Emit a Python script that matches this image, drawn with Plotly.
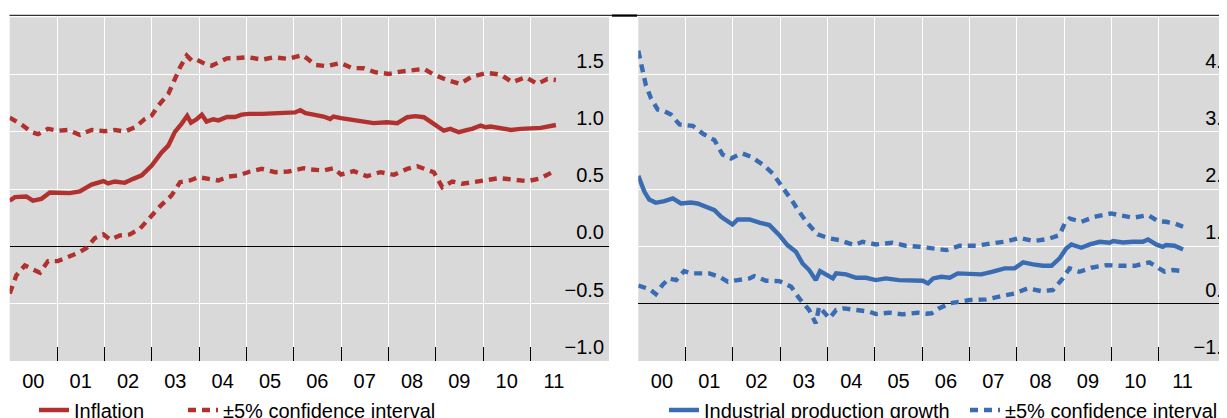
import plotly.graph_objects as go

# ---------------- data ----------------
year_labels = ["00", "01", "02", "03", "04", "05", "06", "07", "08", "09", "10", "11"]
year_mid = [2000.5 + i for i in range(12)]
year_bounds = [2001 + i for i in range(11)]

infl_x = [2000.00, 2000.11, 2000.35, 2000.49, 2000.67, 2000.85, 2000.99, 2001.09, 2001.27, 2001.48, 2001.73, 2001.98,
          2002.08, 2002.22, 2002.43, 2002.61, 2002.79, 2003.00, 2003.21, 2003.35, 2003.49, 2003.63, 2003.75, 2003.83,
          2003.95, 2004.06, 2004.16, 2004.30, 2004.41, 2004.59, 2004.76, 2004.90, 2005.05, 2005.33, 2005.61, 2006.03,
          2006.14, 2006.25, 2006.42, 2006.63, 2006.77, 2006.84, 2007.00, 2007.27, 2007.48, 2007.69, 2007.97, 2008.19,
          2008.40, 2008.57, 2008.75, 2008.96, 2009.17, 2009.31, 2009.49, 2009.67, 2009.77, 2009.95, 2010.06, 2010.16,
          2010.37, 2010.59, 2010.80, 2011.01, 2011.22, 2011.54]
infl_y = [0.40, 0.43, 0.436, 0.40, 0.415, 0.47, 0.468, 0.47, 0.465, 0.48, 0.54, 0.57,
          0.55, 0.567, 0.555, 0.59, 0.62, 0.706, 0.82, 0.88, 1.00, 1.07, 1.14, 1.08,
          1.11, 1.15, 1.09, 1.11, 1.10, 1.13, 1.13, 1.15, 1.157, 1.157, 1.16, 1.17,
          1.19, 1.163, 1.15, 1.134, 1.113, 1.134, 1.12, 1.108, 1.09, 1.076, 1.084, 1.076,
          1.128, 1.137, 1.128, 1.07, 1.01, 1.026, 0.997, 1.017, 1.026, 1.055, 1.04, 1.047,
          1.032, 1.017, 1.026, 1.032, 1.035, 1.06]

infl_up_x = [2000.00, 2000.07, 2000.28, 2000.46, 2000.60, 2000.81, 2001.02, 2001.23, 2001.48, 2001.73, 2002.01,
             2002.22, 2002.43, 2002.65, 2002.86, 2003.00, 2003.14, 2003.35, 2003.46, 2003.60, 2003.74, 2003.85,
             2003.95, 2004.13, 2004.27, 2004.41, 2004.59, 2004.83, 2005.05, 2005.33, 2005.58, 2005.89, 2006.18,
             2006.28, 2006.46, 2006.70, 2006.99, 2007.23, 2007.48, 2007.73, 2008.01, 2008.26, 2008.50, 2008.75,
             2008.96, 2009.24, 2009.51, 2009.77, 2010.09, 2010.37, 2010.62, 2010.90, 2011.15, 2011.36, 2011.54]
infl_up_y = [1.125, 1.107, 1.055, 0.997, 0.98, 1.026, 1.01, 1.017, 0.974, 1.017, 1.006,
             1.017, 1.003, 1.04, 1.113, 1.142, 1.23, 1.33, 1.433, 1.564, 1.666, 1.622,
             1.63, 1.593, 1.578, 1.608, 1.642, 1.645, 1.651, 1.63, 1.651, 1.637, 1.67,
             1.642, 1.584, 1.573, 1.602, 1.558, 1.555, 1.52, 1.506, 1.526, 1.535, 1.55,
             1.50, 1.453, 1.419, 1.483, 1.515, 1.50, 1.433, 1.477, 1.419, 1.462, 1.453]

infl_lo_x = [2000.00, 2000.14, 2000.32, 2000.46, 2000.64, 2000.81, 2001.02, 2001.23, 2001.45, 2001.62, 2001.80,
             2001.98, 2002.12, 2002.33, 2002.54, 2002.75, 2002.96, 2003.18, 2003.42, 2003.60, 2003.81, 2003.99,
             2004.20, 2004.41, 2004.62, 2004.83, 2005.08, 2005.33, 2005.61, 2005.89, 2006.21, 2006.35, 2006.63,
             2006.84, 2007.00, 2007.27, 2007.55, 2007.83, 2008.12, 2008.40, 2008.61, 2008.82, 2008.96, 2009.14,
             2009.35, 2009.56, 2009.81, 2010.09, 2010.34, 2010.62, 2010.94, 2011.18, 2011.40, 2011.54]
infl_lo_y = [-0.41, -0.253, -0.166, -0.195, -0.23, -0.128, -0.128, -0.093, -0.055, -0.015, 0.073,
             0.105, 0.061, 0.096, 0.105, 0.154, 0.256, 0.352, 0.445, 0.561, 0.576, 0.605,
             0.59, 0.576, 0.61, 0.619, 0.654, 0.677, 0.648, 0.654, 0.683, 0.672, 0.663,
             0.683, 0.628, 0.657, 0.613, 0.648, 0.625, 0.677, 0.70, 0.672, 0.648, 0.517,
             0.567, 0.547, 0.561, 0.581, 0.596, 0.584, 0.57, 0.59, 0.634, 0.663]

ip_x = [2000.00, 2000.13, 2000.23, 2000.37, 2000.55, 2000.73, 2000.90, 2001.11, 2001.25, 2001.43, 2001.61, 2001.75,
        2001.99, 2002.10, 2002.35, 2002.56, 2002.77, 2002.98, 2003.15, 2003.33, 2003.47, 2003.61, 2003.75, 2003.84,
        2003.96, 2004.11, 2004.18, 2004.39, 2004.60, 2004.81, 2005.02, 2005.23, 2005.51, 2005.80, 2006.01, 2006.12,
        2006.23, 2006.40, 2006.58, 2006.75, 2007.00, 2007.25, 2007.49, 2007.74, 2007.95, 2008.13, 2008.34, 2008.55,
        2008.73, 2008.90, 2009.04, 2009.15, 2009.36, 2009.54, 2009.75, 2009.96, 2010.03, 2010.24, 2010.45, 2010.66,
        2010.77, 2010.94, 2011.08, 2011.15, 2011.33, 2011.51]
ip_y = [2.68, 2.344, 2.184, 2.114, 2.149, 2.205, 2.10, 2.121, 2.10, 2.03, 1.96, 1.82,
        1.66, 1.765, 1.765, 1.70, 1.647, 1.437, 1.228, 1.088, 0.844, 0.705, 0.495, 0.684,
        0.614, 0.53, 0.635, 0.614, 0.544, 0.544, 0.495, 0.53, 0.495, 0.495, 0.481, 0.426,
        0.53, 0.565, 0.544, 0.635, 0.635, 0.614, 0.67, 0.74, 0.74, 0.865, 0.823, 0.795,
        0.795, 0.949, 1.158, 1.242, 1.172, 1.242, 1.298, 1.277, 1.312, 1.284, 1.298, 1.298,
        1.347, 1.242, 1.193, 1.228, 1.214, 1.137]

ip_up_x = [2000.00, 2000.09, 2000.16, 2000.27, 2000.41, 2000.55, 2000.69, 2000.87, 2001.01, 2001.15, 2001.36,
           2001.61, 2001.78, 2001.96, 2002.10, 2002.20, 2002.38, 2002.63, 2002.84, 2003.05, 2003.23, 2003.40,
           2003.58, 2003.79, 2004.04, 2004.25, 2004.56, 2004.74, 2005.02, 2005.37, 2005.65, 2005.94, 2006.08,
           2006.23, 2006.51, 2006.79, 2007.14, 2007.46, 2007.74, 2008.06, 2008.34, 2008.65, 2008.90, 2009.01,
           2009.11, 2009.36, 2009.64, 2009.99, 2010.20, 2010.45, 2010.77, 2010.98, 2011.15, 2011.33, 2011.51]
ip_up_y = [5.30, 4.926, 4.577, 4.298, 4.068, 4.033, 3.963, 3.754, 3.74, 3.726, 3.565,
           3.426, 3.126, 3.042, 3.112, 3.147, 3.077, 2.916, 2.728, 2.449, 2.184, 1.926,
           1.681, 1.451, 1.368, 1.333, 1.228, 1.298, 1.242, 1.277, 1.214, 1.193, 1.172,
           1.144, 1.123, 1.214, 1.214, 1.263, 1.298, 1.381, 1.312, 1.354, 1.437, 1.681,
           1.786, 1.716, 1.821, 1.891, 1.842, 1.80, 1.856, 1.73, 1.716, 1.681, 1.612]

ip_lo_x = [2000.00, 2000.09, 2000.23, 2000.37, 2000.51, 2000.65, 2000.80, 2000.97, 2001.11, 2001.36, 2001.50,
           2001.71, 2001.89, 2002.10, 2002.35, 2002.45, 2002.70, 2002.98, 2003.23, 2003.40, 2003.61, 2003.75,
           2003.82, 2004.04, 2004.18, 2004.35, 2004.60, 2004.88, 2005.02, 2005.30, 2005.58, 2005.90, 2006.08,
           2006.20, 2006.35, 2006.58, 2006.79, 2007.00, 2007.35, 2007.67, 2007.95, 2008.23, 2008.51, 2008.76,
           2008.97, 2009.11, 2009.32, 2009.57, 2009.89, 2010.17, 2010.49, 2010.80, 2010.98, 2011.12, 2011.30, 2011.51]
ip_lo_y = [0.38, 0.356, 0.307, 0.202, 0.391, 0.53, 0.495, 0.684, 0.635, 0.635, 0.635,
           0.565, 0.46, 0.495, 0.53, 0.579, 0.481, 0.474, 0.356, 0.112, -0.133, -0.412,
           -0.063, -0.307, -0.133, -0.098, -0.133, -0.167, -0.216, -0.188, -0.223, -0.188, -0.21,
           -0.2, -0.098, 0.007, 0.042, 0.077, 0.091, 0.147, 0.216, 0.321, 0.265, 0.286,
           0.53, 0.74, 0.67, 0.754, 0.809, 0.795, 0.795, 0.865, 0.74, 0.67, 0.705, 0.684]

left_ticks = [-1.0, -0.5, 0.0, 0.5, 1.0, 1.5]
left_ticktext = ["\u22121.0", "\u22120.5", "0.0", "0.5", "1.0", "1.5"]
right_ticks = [-1.2, 0.0, 1.2, 2.4, 3.6, 4.8]
right_ticktext = ["\u22121.2", "0.0", "1.2", "2.4", "3.6", "4.8"]

# ---------------- style ----------------
RED = "#b1312f"
BLUE = "#3a6cb4"
GRAY = "#d9d9d9"
FONT = "Liberation Sans, Arial, sans-serif"
FS = 20
LW = 4.4
DASH = "8px,6px"

# the page body has an 8px default margin: the figure is drawn at (8, 8)
OFF = 8
WIN_W, WIN_H = 1227, 418
W, H = WIN_W - OFF, WIN_H - OFF
PX_PER_YEAR = 47.33
PLOT_TOP, PLOT_BOT = 17.3, 361.0
L_X0, L_X1 = 9.7, 609.0
R_X0 = 638.3


def fx(p):
    return (p - OFF) / W


def fy(p):
    return 1 - (p - OFF) / H


y_dom = [fy(PLOT_BOT), fy(PLOT_TOP)]
left_dom = [max(0.0, fx(L_X0)), fx(L_X1)]
right_dom = [fx(R_X0), 1.0]
left_range = [2000.0, 2000.0 + (L_X1 - L_X0) / PX_PER_YEAR]
right_range = [2000.0, 2000.0 + (WIN_W - R_X0) / PX_PER_YEAR]

fig = go.Figure()

fig.add_trace(go.Scatter(x=infl_x, y=infl_y, mode="lines", name="Inflation",
                         line=dict(color=RED, width=LW), xaxis="x", yaxis="y", legend="legend"))
fig.add_trace(go.Scatter(x=infl_up_x, y=infl_up_y, mode="lines", name="\u00b15% confidence interval",
                         line=dict(color=RED, width=LW, dash=DASH), xaxis="x", yaxis="y", legend="legend2"))
fig.add_trace(go.Scatter(x=infl_lo_x, y=infl_lo_y, mode="lines", showlegend=False,
                         line=dict(color=RED, width=LW, dash=DASH), xaxis="x", yaxis="y"))

fig.add_trace(go.Scatter(x=ip_x, y=ip_y, mode="lines", name="Industrial production growth",
                         line=dict(color=BLUE, width=LW), xaxis="x2", yaxis="y2", legend="legend3"))
fig.add_trace(go.Scatter(x=ip_up_x, y=ip_up_y, mode="lines", name="\u00b15% confidence interval",
                         line=dict(color=BLUE, width=LW, dash=DASH), xaxis="x2", yaxis="y2", legend="legend4"))
fig.add_trace(go.Scatter(x=ip_lo_x, y=ip_lo_y, mode="lines", showlegend=False,
                         line=dict(color=BLUE, width=LW, dash=DASH), xaxis="x2", yaxis="y2"))


def xaxis_cfg(dom, rng, anchor):
    return dict(domain=dom, range=rng, anchor=anchor, tickmode="array", tickvals=year_mid,
                ticktext=year_labels, ticks="", showgrid=False, zeroline=False, showline=False,
                ticklabelstandoff=6, automargin=False,
                tickfont=dict(size=FS, color="black", family=FONT),
                minor=dict(tickmode="array", tickvals=year_bounds, ticks="inside", ticklen=14,
                           tickwidth=1.3, tickcolor="black", showgrid=True, gridcolor="white",
                           gridwidth=1.3),
                fixedrange=True)


def yaxis_cfg(rng, vals, text, anchor, standoff):
    return dict(domain=y_dom, range=rng, anchor=anchor, side="right", tickmode="array",
                tickvals=vals, ticktext=text, ticks="", ticklabelposition="inside top",
                ticklabelstandoff=standoff, automargin=False,
                showgrid=True, gridcolor="white", gridwidth=1.3, zeroline=True,
                zerolinecolor="black", zerolinewidth=1.3, showline=False,
                tickfont=dict(size=FS, color="black", family=FONT), fixedrange=True)


leg_common = dict(orientation="h", yanchor="middle", xanchor="left", y=fy(410),
                  bgcolor="rgba(0,0,0,0)", font=dict(size=FS, color="black", family=FONT),
                  borderwidth=0, itemclick=False, itemdoubleclick=False)

fig.update_layout(
    width=W, height=H,
    margin=dict(l=0, r=0, t=0, b=0, pad=0, autoexpand=False),
    paper_bgcolor="white", plot_bgcolor=GRAY,
    font=dict(family=FONT, size=FS, color="black"),
    xaxis=xaxis_cfg(left_dom, left_range, "y"),
    yaxis=yaxis_cfg([-1.0, 2.0], left_ticks, left_ticktext, "x", 2),
    xaxis2=xaxis_cfg(right_dom, right_range, "y2"),
    yaxis2=yaxis_cfg([-1.2, 6.0], right_ticks, right_ticktext, "x2", -9),
    legend=dict(x=fx(34), **leg_common),
    legend2=dict(x=fx(183), **leg_common),
    legend3=dict(x=fx(664), **leg_common),
    legend4=dict(x=fx(965), **leg_common),
    shapes=[
        dict(type="line", xref="paper", yref="paper", x0=max(0.0, fx(9.5)), x1=1.0,
             y0=fy(15.3), y1=fy(15.3), line=dict(color="black", width=1)),
        dict(type="line", xref="paper", yref="paper", x0=fx(612), x1=fx(637),
             y0=fy(15.6), y1=fy(15.6), line=dict(color="black", width=2.2)),
    ],
)

fig.write_html("out.html")
